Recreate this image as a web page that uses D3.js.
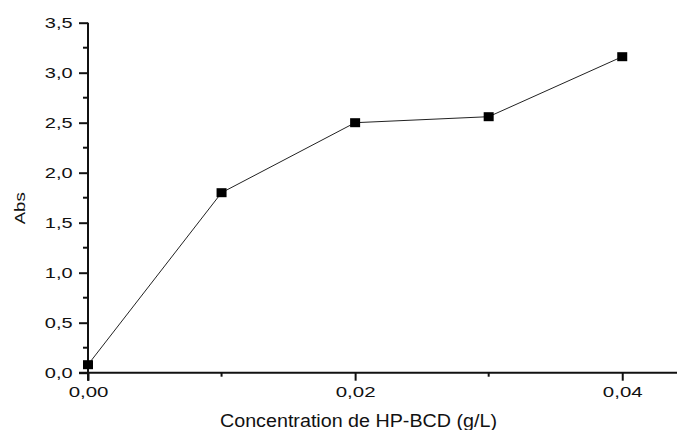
<!DOCTYPE html>
<html>
<head>
<meta charset="utf-8">
<script src="https://cdn.jsdelivr.net/npm/d3@7"></script>
<style>
  html, body { margin: 0; padding: 0; background: #fff; }
  svg { display: block; font-family: "Liberation Sans", Arial, sans-serif; }
</style>
</head>
<body>
<svg id="chart" width="678" height="430"></svg>
<script>
// Absorbance vs HP-BCD concentration
const concentrations = [0.00, 0.01, 0.02, 0.03, 0.04];
const absorbance = [0.08, 1.80, 2.50, 2.56, 3.16];
const xTickValues = [0.00, 0.02, 0.04];
const xTickLabels = ["0,00", "0,02", "0,04"];
const yTickValues = [0.0, 0.5, 1.0, 1.5, 2.0, 2.5, 3.0, 3.5];
const yTickLabels = ["0,0", "0,5", "1,0", "1,5", "2,0", "2,5", "3,0", "3,5"];
const xTitle = "Concentration de HP-BCD (g/L)";
const yTitle = "Abs";

const svg = d3.select("#chart");
const plotLeft = 88, plotRight = 677, plotTop = 22.7, plotBottom = 372.7;
const FONT = "Liberation Sans, Arial, sans-serif";

const x = d3.scaleLinear().domain([0, 0.0441]).range([plotLeft, plotRight]);
const y = d3.scaleLinear().domain([0, 3.5]).range([plotBottom, plotTop]);

// minor ticks
const xMinor = [0.01, 0.03];
const yMinor = d3.range(0.25, 3.5, 0.5);

const axisG = svg.append("g");

// x axis
const xAxis = axisG.append("g").attr("transform", `translate(0,${plotBottom})`)
  .call(d3.axisBottom(x).tickValues(xTickValues)
    .tickFormat((d, i) => xTickLabels[i]).tickSize(8).tickSizeOuter(0));
xAxis.select(".domain").attr("stroke", "#111").attr("stroke-width", 2)
  .attr("d", `M${plotLeft - 9},0H${plotRight}`);
xAxis.selectAll(".tick line").attr("stroke", "#111").attr("stroke-width", 2);
xAxis.selectAll(".tick text")
  .attr("y", 0).attr("dy", null)
  .attr("transform", "translate(0,24.3) scale(1.46,1)")
  .attr("font-size", 14).attr("fill", "#111").attr("font-family", FONT);
xAxis.selectAll(".minor").data(xMinor).enter().append("line")
  .attr("x1", d => x(d)).attr("x2", d => x(d)).attr("y1", 0).attr("y2", 4)
  .attr("stroke", "#111").attr("stroke-width", 2);

// y axis
const yAxis = axisG.append("g").attr("transform", `translate(${plotLeft},0)`)
  .call(d3.axisLeft(y).tickValues(yTickValues)
    .tickFormat((d, i) => yTickLabels[i]).tickSize(9).tickSizeOuter(0));
yAxis.select(".domain").attr("stroke", "#111").attr("stroke-width", 2)
  .attr("d", `M0,${plotTop}V${plotBottom + 8}`);
yAxis.selectAll(".tick line").attr("stroke", "#111").attr("stroke-width", 2);
yAxis.selectAll(".tick text")
  .attr("x", 0).attr("dy", null)
  .attr("transform", "translate(-15.3,5) scale(1.43,1)")
  .attr("font-size", 14).attr("fill", "#111").attr("font-family", FONT);
yAxis.selectAll(".minor").data(yMinor).enter().append("line")
  .attr("x1", -5).attr("x2", 0).attr("y1", d => y(d)).attr("y2", d => y(d))
  .attr("stroke", "#111").attr("stroke-width", 2);

// data line
const pts = concentrations.map((c, i) => [c, absorbance[i]]);
svg.append("path")
  .datum(pts)
  .attr("fill", "none")
  .attr("stroke", "#222")
  .attr("stroke-width", 1)
  .attr("d", d3.line().x(d => x(d[0])).y(d => y(d[1])));

// square markers
svg.append("g").selectAll("rect").data(pts).enter().append("rect")
  .attr("x", d => x(d[0]) - 5)
  .attr("y", d => y(d[1]) - 4.5)
  .attr("width", 10)
  .attr("height", 9)
  .attr("fill", "#000");

// axis titles
svg.append("text")
  .attr("transform", "translate(358.5,426.7) scale(1.065,1)")
  .attr("text-anchor", "middle")
  .attr("font-size", 18.5).attr("fill", "#111").attr("font-family", FONT)
  .text(xTitle);

svg.append("text")
  .attr("transform", "translate(24.5,208.3) rotate(-90) scale(1.2,1)")
  .attr("text-anchor", "middle")
  .attr("font-size", 15.5).attr("fill", "#111").attr("font-family", FONT)
  .text(yTitle);
</script>
</body>
</html>
